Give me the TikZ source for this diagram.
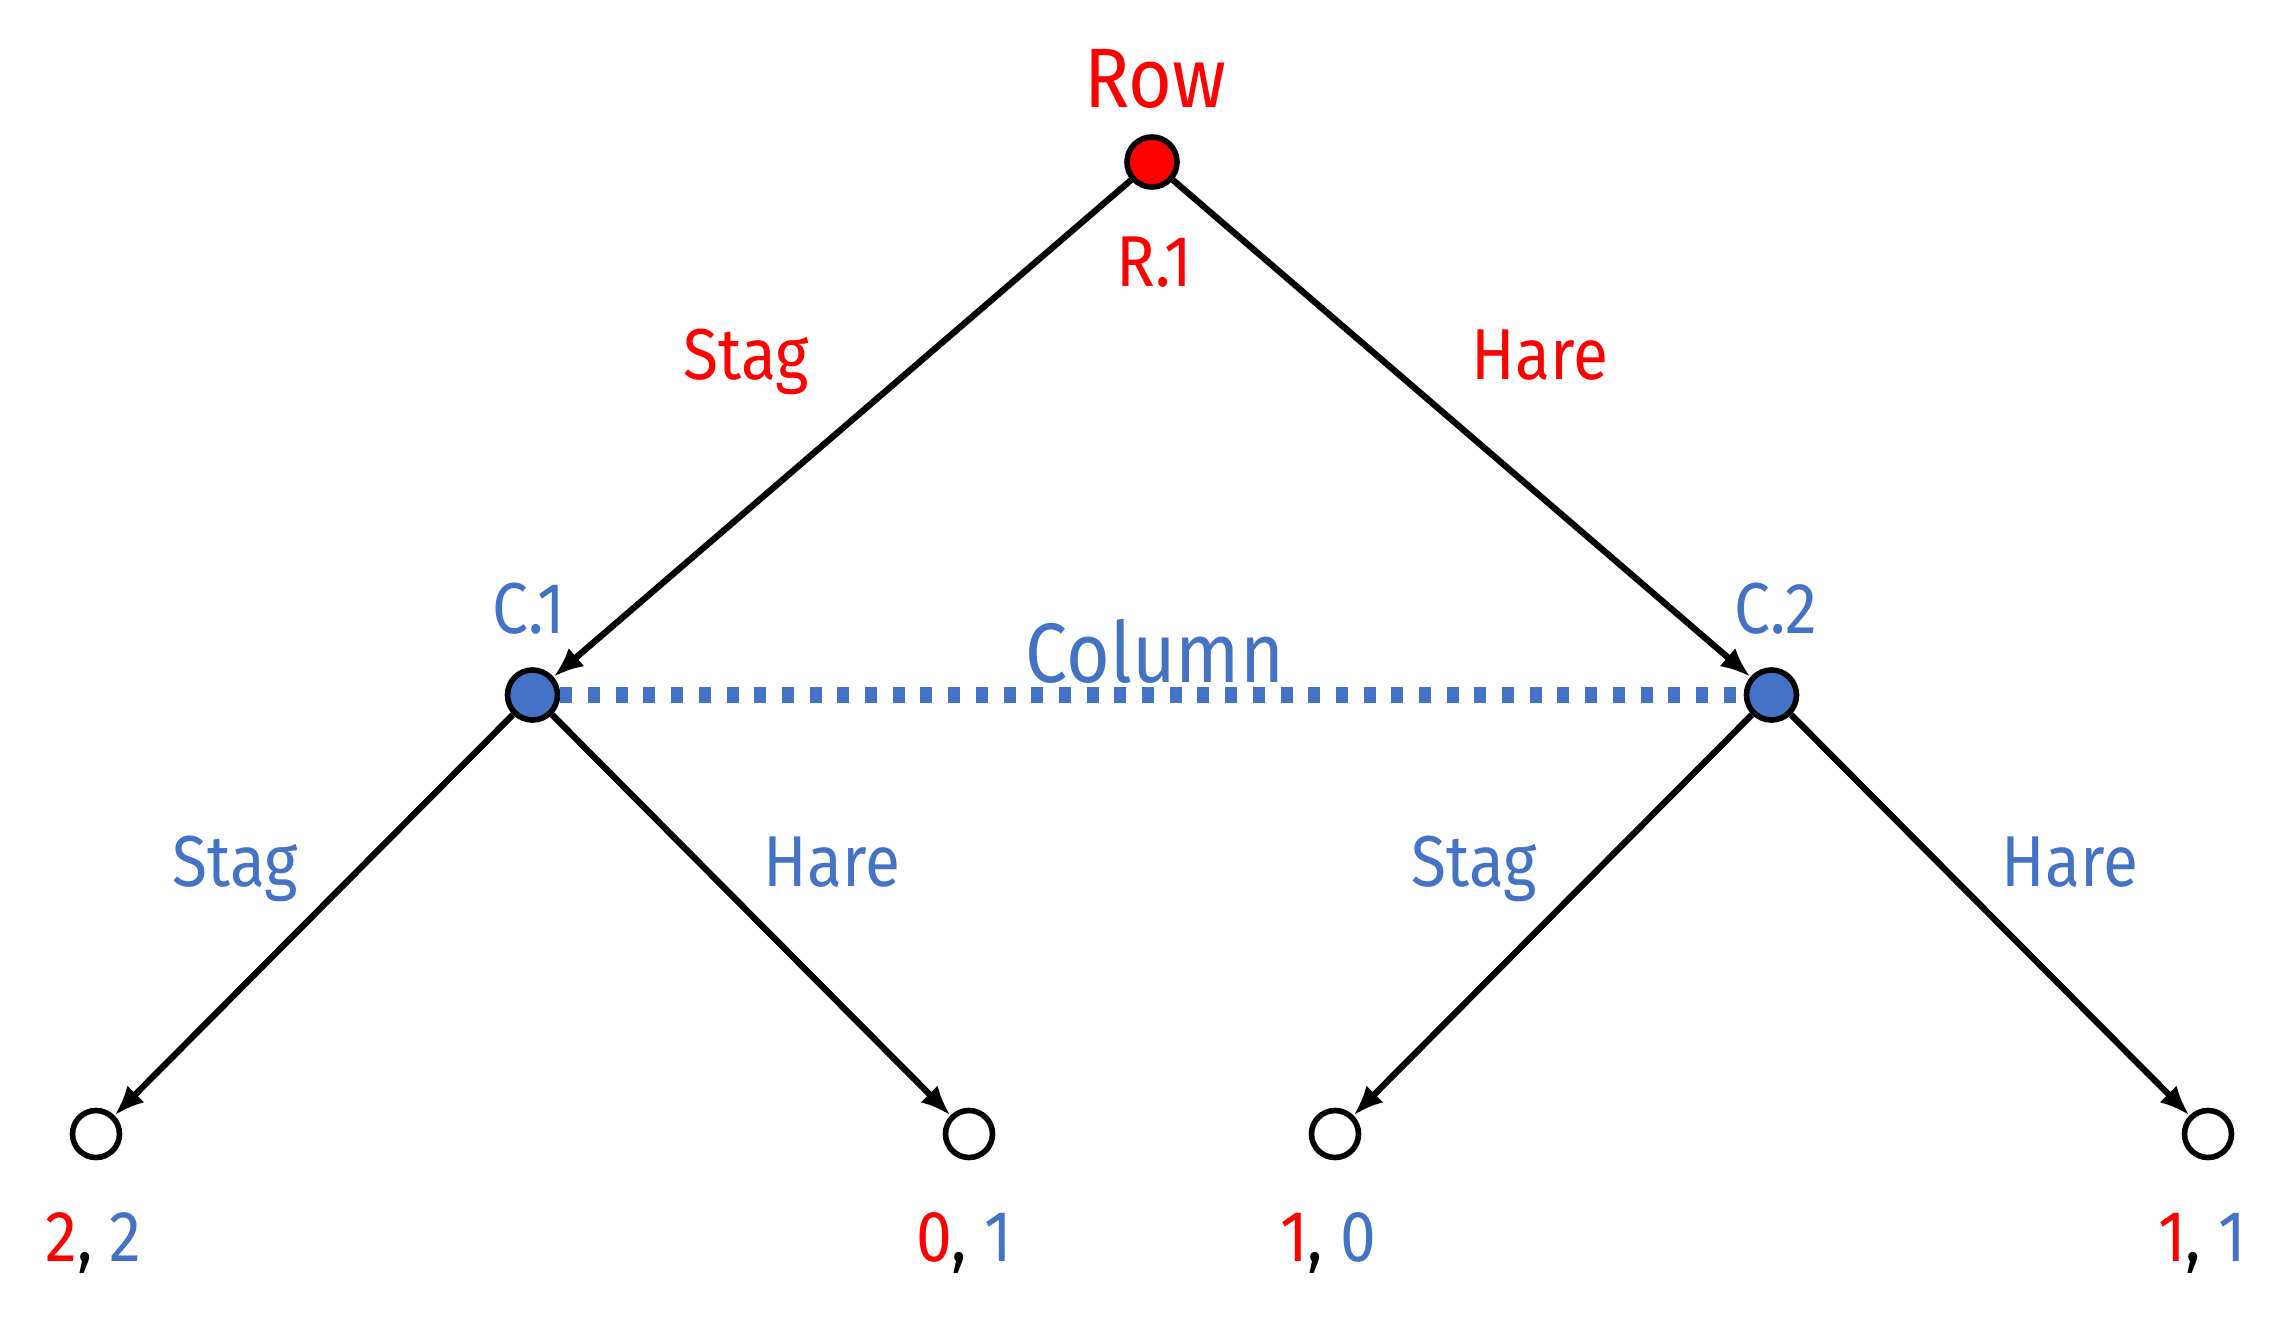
\documentclass[tikz,border=0pt]{standalone}
\usepackage{fontspec}
\setmainfont[FakeStretch=0.89]{Fira Sans}
\usepackage{tikz}
\usetikzlibrary{arrows.meta}
\definecolor{rowred}{RGB}{255,0,0}
\definecolor{colblue}{RGB}{68,114,196}

\begin{document}
\begin{tikzpicture}[every node/.style={font=\fontsize{20.5}{24}\selectfont},
	decision/.style={circle, draw=black, line width=1.6pt, minimum size=0.5cm, inner sep=0pt},
	rownode/.style={decision, fill=rowred},
	colnode/.style={decision, fill=colblue},
	leaf/.style={decision, fill=white, minimum size=0.47cm},
	rowlabel/.style={text=rowred, anchor=base},
	collabel/.style={text=colblue, anchor=base},
	payoff/.style={anchor=base},
	level 1/.style={level distance=5.33cm, sibling distance=12.39cm},
	level 2/.style={level distance=4.39cm, sibling distance=8.73cm},
	edge from parent/.style={draw, line width=1.8pt, -{Latex[length=0.3cm,width=0.24cm]}}]
\useasboundingbox (0,0) rectangle (22.91,-13.24);
\node[rownode] (row) at (11.52,-1.62) {}
	child { node[colnode] (c1) {}
		child { node[leaf] (c1stag) {}}
		child { node[leaf] (c1hare) {}}
	}
	child { node[colnode] (c2) {}
		child { node[leaf] (c2stag) {}}
		child { node[leaf] (c2hare) {}}
	}
;
\draw[colblue, line width=4.3pt, dash pattern=on 0.12cm off 0.157cm] (c1) -- (c2);
\node[rowlabel, font=\fontsize{24}{28}\selectfont] (rowname) at (11.55,-1.07) {Row};
\node[rowlabel] (r1) at (11.54,-2.86) {R.1};
\node[rowlabel] (rstag) at (7.46,-3.79) {Stag};
\node[rowlabel] (rhare) at (15.40,-3.79) {Hare};
\node[collabel] (c1name) at (5.29,-6.33) {C.1};
\node[collabel] (c2name) at (17.76,-6.33) {C.2};
\node[collabel, font=\fontsize{24}{28}\selectfont] (colname) at (11.55,-6.82) {Column};
\node[collabel] (c1stagl) at (2.35,-8.86) {Stag};
\node[collabel] (c1harel) at (8.32,-8.86) {Hare};
\node[collabel] (c2stagl) at (14.74,-8.86) {Stag};
\node[collabel] (c2harel) at (20.70,-8.86) {Hare};
\node[payoff] (p1) at (0.935,-12.61) {\textcolor{rowred}{2}, \textcolor{colblue}{2}};
\node[payoff] (p2) at (9.64,-12.61) {\textcolor{rowred}{0}, \textcolor{colblue}{1}};
\node[payoff] (p3) at (13.28,-12.61) {\textcolor{rowred}{1}, \textcolor{colblue}{0}};
\node[payoff] (p4) at (22.02,-12.61) {\textcolor{rowred}{1}, \textcolor{colblue}{1}};
\end{tikzpicture}
\end{document}
